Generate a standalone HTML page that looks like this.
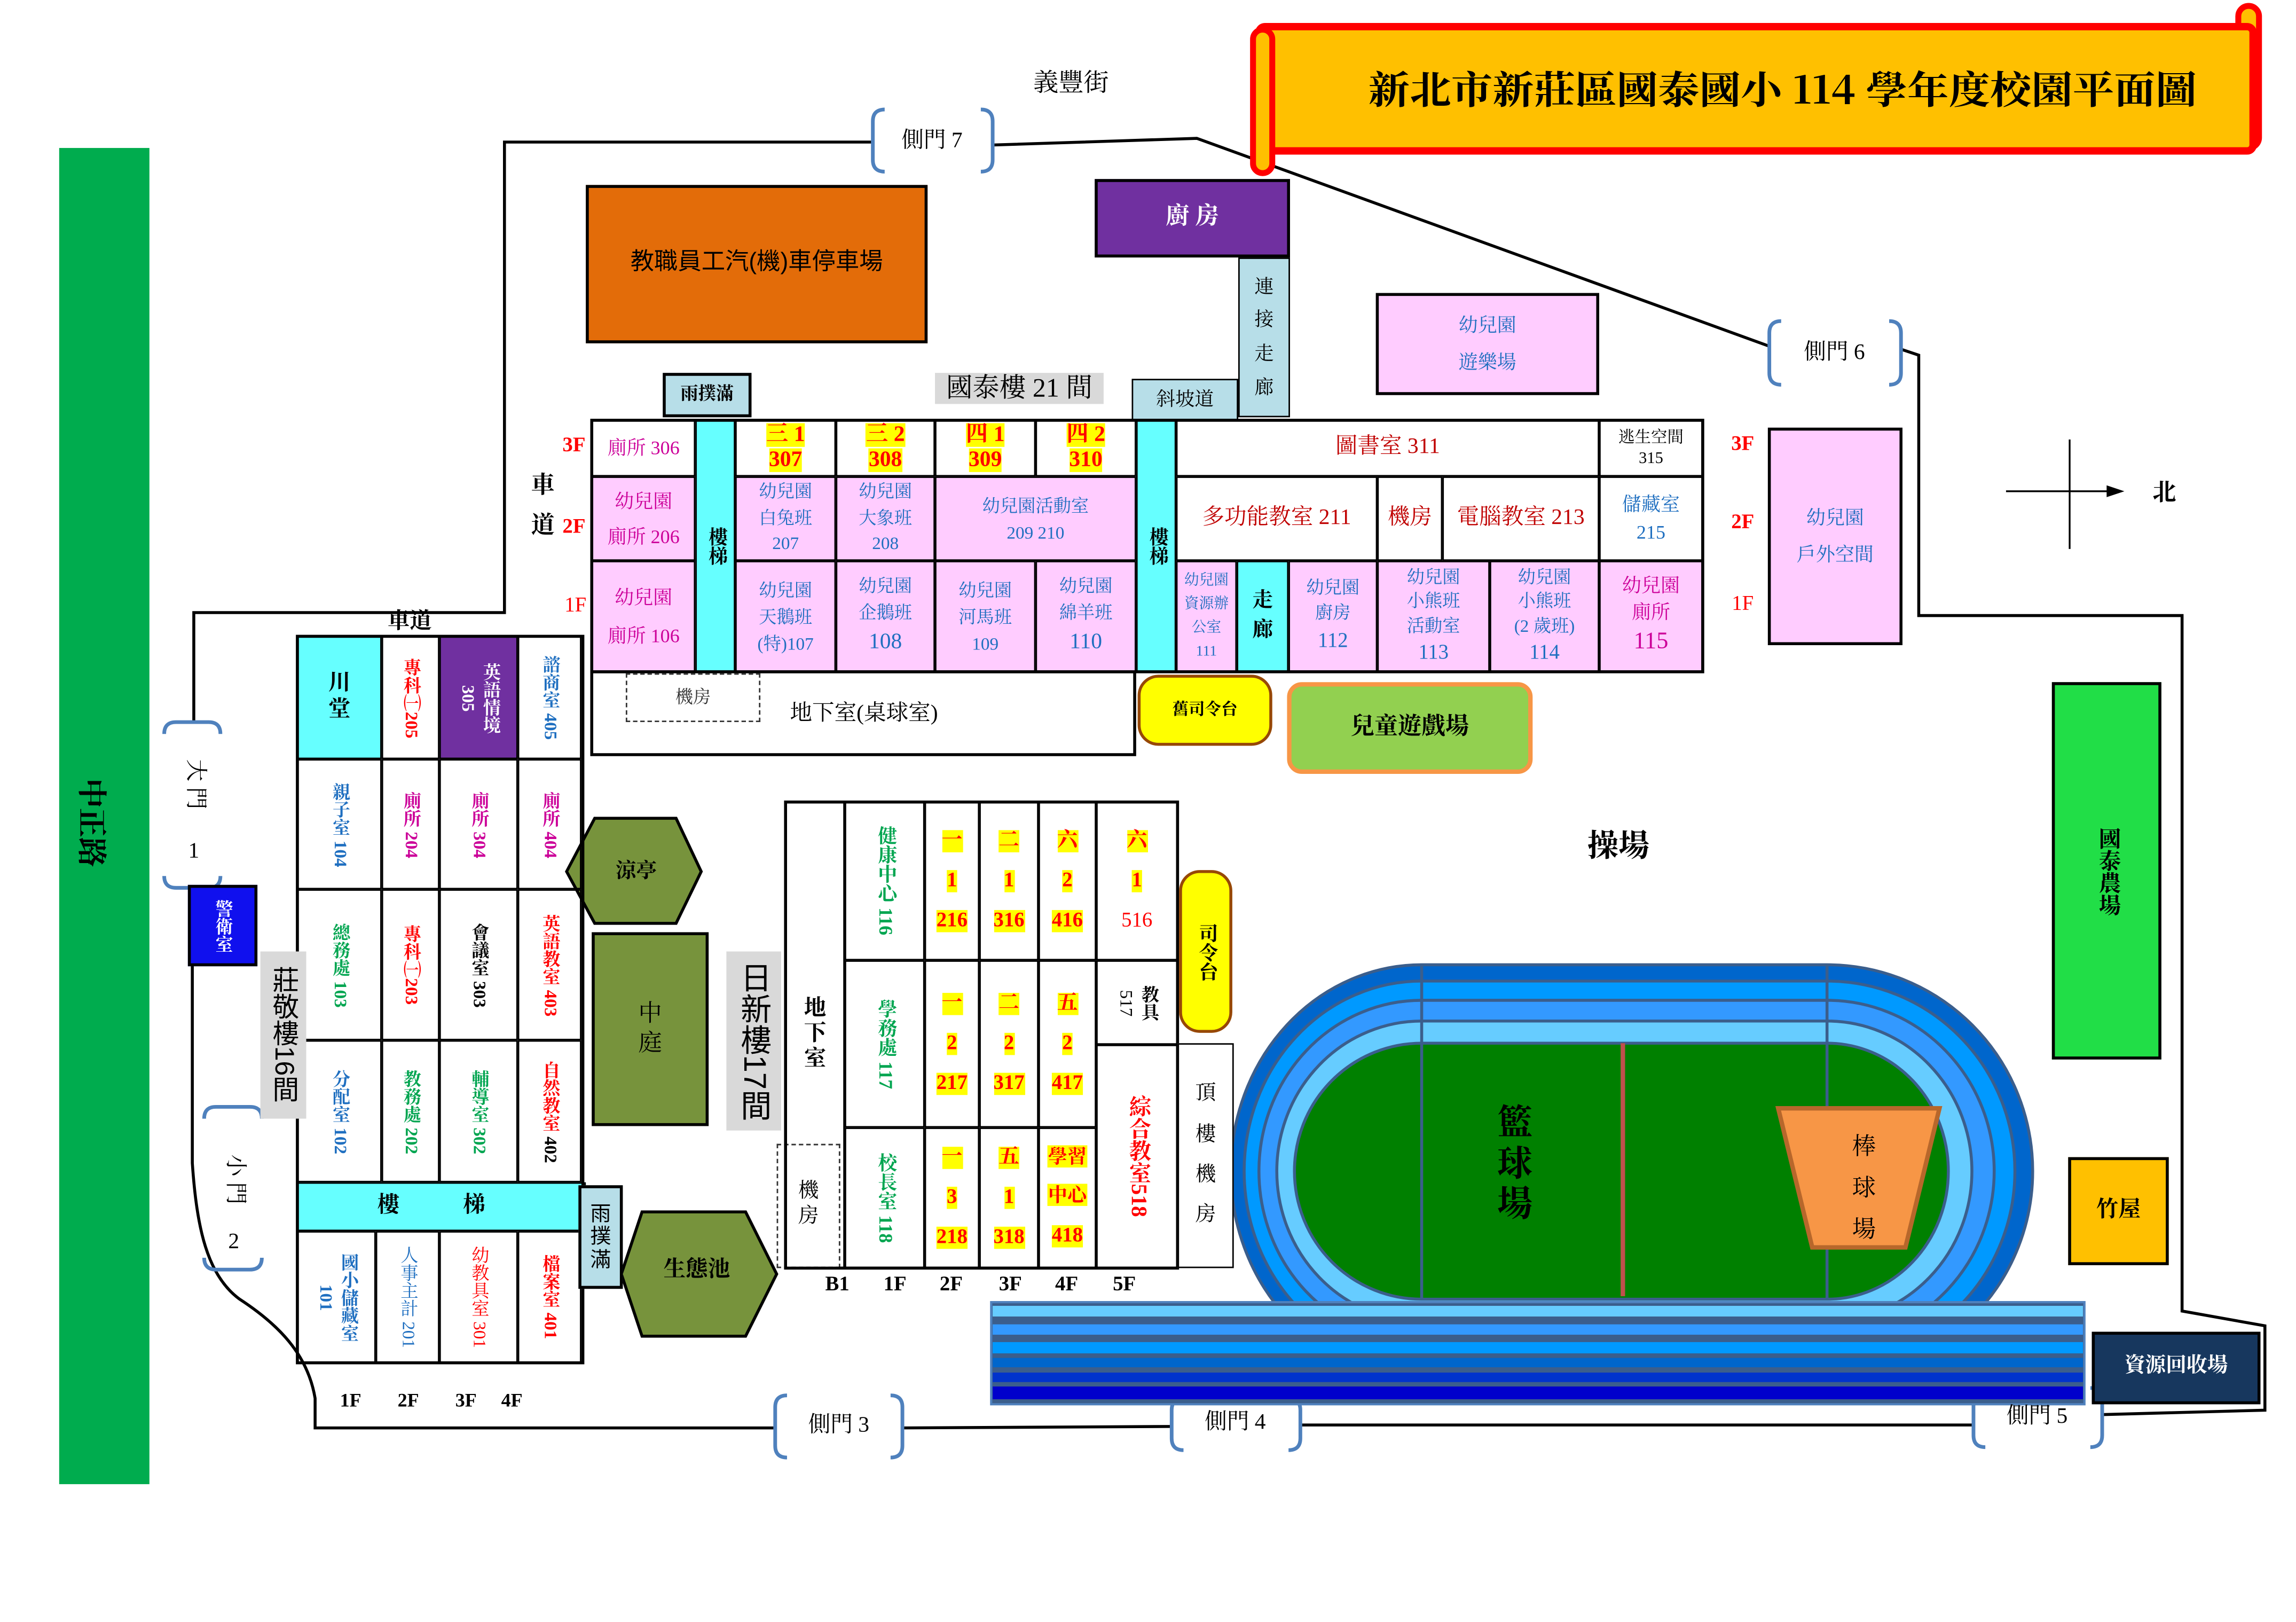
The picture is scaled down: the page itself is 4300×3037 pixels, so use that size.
<!DOCTYPE html>
<html><head><meta charset="utf-8">
<style>
html,body{margin:0;padding:0;background:#fff;width:4300px;height:3036px;overflow:hidden}
#m{position:absolute;left:0;top:0;width:1552px;height:1096px;transform:scale(2.7706);transform-origin:0 0;font-family:"Liberation Serif","Noto Serif CJK SC",serif;color:#000}
.a{position:absolute;box-sizing:border-box;display:flex;align-items:center;justify-content:center;text-align:center;line-height:1.3;font-size:12px}
.b{border:1px solid #000}
.B{border:2px solid #000}
.v{writing-mode:vertical-rl}
.p{background:#FFCCFF}
.cy{background:#66FFFF}
.mg{color:#CC0099}.bl{color:#1F6FC0}.rd{color:#FF0000}.dr{color:#C00000}.gr{color:#00A550}
.bd{font-weight:bold}
.y span{background:#FFFF00;color:#FF0000;font-weight:bold}
.t{position:absolute;transform:translate(-50%,-50%);white-space:nowrap;line-height:1}
.s{font-family:"Liberation Sans","Noto Sans CJK SC",sans-serif}
svg{position:absolute;left:0;top:0}
</style></head><body><div id="m">
<svg width="1552" height="1096" viewBox="0 0 1552 1096">
<rect x="40" y="100" width="61" height="903" fill="#00AC4E"/>
<g fill="none" stroke="#000" stroke-width="2">
<path d="M131,488 L131,414 L341,414 L341,96 L590,96"/>
<path d="M671,98 L809,93.5 L1196,234"/>
<path d="M1285,236 L1297,240 L1297,416 L1475,416 L1475,886 L1531,896 L1531,953 L1421,956"/>
<path d="M1334,963 L879,963"/>
<path d="M792,964 L610,965"/>
<path d="M524,965 L213,965 L213,945 C208,915 188,895 162,878 C140,862 133,830 130,786 L130,652"/>
</g>
<rect x="1513" y="4" width="14" height="96" rx="7" fill="#FFC000" stroke="#FF0000" stroke-width="4"/>
<rect x="851" y="18" width="672" height="84" rx="4" fill="#FFC000" stroke="#FF0000" stroke-width="5"/>
<rect x="847" y="20" width="13" height="97" rx="6.5" fill="#FFC000" stroke="#FF0000" stroke-width="4"/>
<text x="1205" y="70" font-size="26" font-weight="bold" text-anchor="middle" textLength="560" lengthAdjust="spacingAndGlyphs" font-family="Noto Serif CJK SC, serif">新北市新莊區國泰國小 114 學年度校園平面圖</text>
<g fill="none" stroke="#4F81BD" stroke-width="2.5">
<path d="M598,74 Q590,74 590,82 L590,108 Q590,116 598,116 M663,74 Q671,74 671,82 L671,108 Q671,116 663,116"/>
<path d="M1204,217 Q1196,217 1196,225 L1196,252 Q1196,260 1204,260 M1277,217 Q1285,217 1285,225 L1285,252 Q1285,260 1277,260"/>
<path d="M532,943 Q524,943 524,951 L524,977 Q524,985 532,985 M602,943 Q610,943 610,951 L610,977 Q610,985 602,985"/>
<path d="M800,945 Q792,945 792,953 L792,972 Q792,980 800,980 M871,945 Q879,945 879,953 L879,972 Q879,980 871,980"/>
<path d="M1342,938 Q1334,938 1334,946 L1334,970 Q1334,978 1342,978 M1413,938 Q1421,938 1421,946 L1421,970 Q1421,978 1413,978"/>
<path d="M111,496 Q111,488 119,488 L141,488 Q149,488 149,496 M111,592 Q111,600 119,600 L141,600 Q149,600 149,592"/>
<path d="M138,756 Q138,748 146,748 L169,748 Q177,748 177,756 M138,850 Q138,858 146,858 L169,858 Q177,858 177,850"/>
</g>
<polygon points="383,589 402,553 457,553 474,589 457,624 402,624" fill="#77933C" stroke="#000" stroke-width="2"/>
<polygon points="420,861 434,819 504,819 525,861 504,903 434,903" fill="#77933C" stroke="#000" stroke-width="2"/>
<g stroke="#3B5E8C" stroke-width="2">
<path d="M961,652 L1235,652 A139 139.5 0 0 1 1235,931 L961,931 A129 139.5 0 0 1 961,652Z" fill="#0066CC"/>
<path d="M961,663 L1235,663 A127 128.5 0 0 1 1235,920 L961,920 A120 128.5 0 0 1 961,663Z" fill="#0099FF"/>
<path d="M961,676 L1235,676 A113 115.5 0 0 1 1235,907 L961,907 A110 115.5 0 0 1 961,676Z" fill="#3399FF"/>
<path d="M961,690 L1235,690 A98 101.5 0 0 1 1235,893 L961,893 A98 101.5 0 0 1 961,690Z" fill="#66CCFF"/>
<path d="M961,705 L1235,705 A82 86.5 0 0 1 1235,878 L961,878 A86 86.5 0 0 1 961,705Z" fill="#008000"/>
<path d="M961,652 L961,878 M1235,652 L1235,878" fill="none"/>
</g>
<line x1="1097" y1="705" x2="1097" y2="876" stroke="#C0504D" stroke-width="3"/>
<polygon points="1202,749 1311,749 1288,843 1225,843" fill="#F79646" stroke="#B7672B" stroke-width="3"/>
<rect x="670" y="880" width="739" height="69" fill="#3B5E8C" stroke="#4F81BD" stroke-width="1.5"/>
<rect x="671" y="882.5" width="737" height="7.2" fill="#66CCFF"/>
<rect x="671" y="895" width="737" height="7" fill="#3399FF"/>
<rect x="671" y="907" width="737" height="7.6" fill="#0099FF"/>
<rect x="671" y="917.7" width="737" height="6.3" fill="#0066CC"/>
<rect x="671" y="927.6" width="737" height="6.4" fill="#0033CC"/>
<rect x="671" y="937" width="737" height="8.6" fill="#0000CC"/>
<line x1="1399" y1="297" x2="1399" y2="371" stroke="#000" stroke-width="1.2"/>
<line x1="1356" y1="332" x2="1426" y2="332" stroke="#000" stroke-width="1.2"/>
<polygon points="1436,332 1424,328 1424,336" fill="#000"/>
</svg>

<div class="t bd" style="left:61px;top:556px;font-size:20px;transform:translate(-50%,-50%) rotate(90deg)">中正路</div>
<div class="t" style="left:724px;top:56px;font-size:17px">義豐街</div>
<div class="t" style="left:630px;top:96px;font-size:15px">側門 7</div>
<div class="t" style="left:1240px;top:239px;font-size:15px">側門 6</div>
<div class="t" style="left:567px;top:964px;font-size:15px">側門 3</div>
<div class="t" style="left:835px;top:962px;font-size:15px">側門 4</div>
<div class="t" style="left:1377px;top:958px;font-size:15px">側門 5</div>
<div class="t" style="left:131px;top:530px;font-size:15px;transform:translate(-50%,-50%) rotate(90deg)">大 門</div>
<div class="t" style="left:131px;top:576px;font-size:15px">1</div>
<div class="t" style="left:158px;top:797px;font-size:15px;transform:translate(-50%,-50%) rotate(90deg)">小 門</div>
<div class="t" style="left:158px;top:840px;font-size:15px">2</div>
<div class="t bd" style="left:1463px;top:334px;font-size:16px">北</div>
<div class="t bd" style="left:1094px;top:572px;font-size:21px">操場</div>

<div class="a B s" style="left:396px;top:125px;width:231px;height:107px;background:#E36C09;font-size:16px">教職員工汽(機)車停車場</div>
<div class="a B" style="left:740px;top:121px;width:132px;height:53px;background:#7030A0;color:#fff;font-size:16px;font-weight:bold">廚 房</div>
<div class="a b" style="left:837px;top:174px;width:35px;height:108px;background:#B7DEE8;font-size:13px;line-height:1.75">連<br>接<br>走<br>廊</div>
<div class="a b" style="left:765px;top:256px;width:72px;height:28px;background:#B7DEE8;font-size:13px">斜坡道</div>
<div class="a" style="left:632px;top:252px;width:114px;height:21px;background:#D9D9D9;font-size:18px">國泰樓 21 間</div>
<div class="a B" style="left:448px;top:252px;width:60px;height:30px;background:#B7DEE8;font-size:12px;font-weight:bold">雨撲滿</div>
<div class="a B p bl" style="left:930px;top:198px;width:151px;height:69px;font-size:13px;line-height:1.9">幼兒園<br>遊樂場</div>
<div class="a B p bl" style="left:1195px;top:289px;width:91px;height:147px;font-size:13px;line-height:1.9">幼兒園<br>戶外空間</div>
<div class="a B v bd" style="left:1387px;top:461px;width:74px;height:255px;background:#21DE47;font-size:15px;text-orientation:upright">國泰農場</div>
<div class="a B bd" style="left:1398px;top:782px;width:68px;height:73px;background:#FFC000;font-size:15px">竹屋</div>
<div class="a B bd" style="left:1414px;top:900px;width:114px;height:49px;background:#17375E;color:#fff;font-size:14px">資源回收場</div>

<div class="t rd bd" style="left:388px;top:302px;font-size:14px">3F</div>
<div class="t rd bd" style="left:388px;top:357px;font-size:14px">2F</div>
<div class="t rd" style="left:389px;top:410px;font-size:14px">1F</div>
<div class="t bd" style="left:367px;top:329px;font-size:16px">車</div>
<div class="t bd" style="left:367px;top:356px;font-size:16px">道</div>
<div class="t bd" style="left:277px;top:421px;font-size:15px">車道</div>
<div class="t rd bd" style="left:1178px;top:301px;font-size:14px">3F</div>
<div class="t rd bd" style="left:1178px;top:354px;font-size:14px">2F</div>
<div class="t rd" style="left:1178px;top:409px;font-size:14px">1F</div>

<!-- main building -->
<div class="a b mg" style="left:400px;top:284px;width:70px;height:38px;font-size:13px">廁所 306</div>
<div class="a b cy v bd" style="left:470px;top:284px;width:27px;height:170px;font-size:13px">樓梯</div>
<div class="a b y" style="left:497px;top:284px;width:68px;height:38px;font-size:15px;line-height:1.15"><div><span>三 1</span><br><span>307</span></div></div>
<div class="a b y" style="left:565px;top:284px;width:67px;height:38px;font-size:15px;line-height:1.15"><div><span>三 2</span><br><span>308</span></div></div>
<div class="a b y" style="left:632px;top:284px;width:68px;height:38px;font-size:15px;line-height:1.15"><div><span>四 1</span><br><span>309</span></div></div>
<div class="a b y" style="left:700px;top:284px;width:68px;height:38px;font-size:15px;line-height:1.15"><div><span>四 2</span><br><span>310</span></div></div>
<div class="a b cy v bd" style="left:768px;top:284px;width:27px;height:170px;font-size:13px">樓梯</div>
<div class="a b dr" style="left:795px;top:284px;width:286px;height:38px;font-size:15px">圖書室 311</div>
<div class="a b" style="left:1081px;top:284px;width:70px;height:38px;font-size:11px">逃生空間<br>315</div>

<div class="a b p mg" style="left:400px;top:322px;width:70px;height:57px;font-size:13px;line-height:1.8">幼兒園<br>廁所 206</div>
<div class="a b p bl" style="left:497px;top:322px;width:68px;height:57px;line-height:1.45">幼兒園<br>白兔班<br>207</div>
<div class="a b p bl" style="left:565px;top:322px;width:67px;height:57px;line-height:1.45">幼兒園<br>大象班<br>208</div>
<div class="a b p bl" style="left:632px;top:322px;width:136px;height:57px;line-height:1.5">幼兒園活動室<br>209 210</div>
<div class="a b dr" style="left:795px;top:322px;width:136px;height:57px;font-size:15px">多功能教室 211</div>
<div class="a b dr" style="left:931px;top:322px;width:44px;height:57px;font-size:15px">機房</div>
<div class="a b dr" style="left:975px;top:322px;width:106px;height:57px;font-size:15px">電腦教室 213</div>
<div class="a b bl" style="left:1081px;top:322px;width:70px;height:57px;font-size:13px;line-height:1.4">儲藏室<br>215</div>

<div class="a b p mg" style="left:400px;top:379px;width:70px;height:75px;font-size:13px;line-height:2">幼兒園<br>廁所 106</div>
<div class="a b p bl" style="left:497px;top:379px;width:68px;height:75px;line-height:1.5">幼兒園<br>天鵝班<br>(特)107</div>
<div class="a b p bl" style="left:565px;top:379px;width:67px;height:75px;line-height:1.5"><div>幼兒園<br>企鵝班<br><span style="font-size:15px">108</span></div></div>
<div class="a b p bl" style="left:632px;top:379px;width:68px;height:75px;line-height:1.5">幼兒園<br>河馬班<br>109</div>
<div class="a b p bl" style="left:700px;top:379px;width:68px;height:75px;line-height:1.5"><div>幼兒園<br>綿羊班<br><span style="font-size:15px">110</span></div></div>
<div class="a b p bl" style="left:795px;top:379px;width:41px;height:75px;font-size:10px;line-height:1.6">幼兒園<br>資源辦<br>公室<br>111</div>
<div class="a b cy bd" style="left:836px;top:379px;width:35px;height:75px;font-size:14px;line-height:1.4">走<br>廊</div>
<div class="a b p bl" style="left:871px;top:379px;width:60px;height:75px;line-height:1.45"><div>幼兒園<br>廚房<br><span style="font-size:14px">112</span></div></div>
<div class="a b p bl" style="left:931px;top:379px;width:76px;height:75px;line-height:1.4"><div>幼兒園<br>小熊班<br>活動室<br><span style="font-size:14px">113</span></div></div>
<div class="a b p bl" style="left:1007px;top:379px;width:74px;height:75px;line-height:1.4"><div>幼兒園<br>小熊班<br>(2 歲班)<br><span style="font-size:14px">114</span></div></div>
<div class="a b p mg" style="left:1081px;top:379px;width:70px;height:75px;font-size:13px;line-height:1.4"><div>幼兒園<br>廁所<br><span style="font-size:16px">115</span></div></div>
<div class="a B" style="left:399px;top:283px;width:753px;height:172px"></div>

<div class="a B" style="left:399px;top:453px;width:369px;height:58px"></div>
<div class="a" style="left:423px;top:455px;width:91px;height:33px;border:1px dashed #333;font-size:12px;color:#333">機房</div>
<div class="t" style="left:584px;top:483px;font-size:15px">地下室(桌球室)</div>
<div class="a B bd" style="left:769px;top:456px;width:91px;height:48px;background:#FFFF00;border-color:#974806;border-radius:14px;font-size:11px">舊司令台</div>
<div class="a bd" style="left:870px;top:461px;width:166px;height:62px;background:#92D050;border:3px solid #F79646;border-radius:10px;font-size:16px">兒童遊戲場</div>

<!-- west building -->
<div class="a b cy bd" style="left:201px;top:430px;width:57px;height:83px;font-size:15px;line-height:1.15">川<br>堂</div>
<div class="a b v rd bd" style="left:258px;top:430px;width:39px;height:83px">專科㈠205</div>
<div class="a b v bd" style="left:297px;top:430px;width:53px;height:83px;background:#7030A0;color:#fff">英語情境<br>305</div>
<div class="a b v bl bd" style="left:350px;top:430px;width:43px;height:83px">諮商室 405</div>
<div class="a b v bl bd" style="left:201px;top:513px;width:57px;height:88px">親子室 104</div>
<div class="a b v mg bd" style="left:258px;top:513px;width:39px;height:88px">廁所 204</div>
<div class="a b v mg bd" style="left:297px;top:513px;width:53px;height:88px">廁所 304</div>
<div class="a b v mg bd" style="left:350px;top:513px;width:43px;height:88px">廁所 404</div>
<div class="a b v gr bd" style="left:201px;top:601px;width:57px;height:102px">總務處 103</div>
<div class="a b v rd bd" style="left:258px;top:601px;width:39px;height:102px">專科㈠203</div>
<div class="a b v bd" style="left:297px;top:601px;width:53px;height:102px">會議室 303</div>
<div class="a b v rd bd" style="left:350px;top:601px;width:43px;height:102px">英語教室 403</div>
<div class="a b v bl bd" style="left:201px;top:703px;width:57px;height:96px">分配室 102</div>
<div class="a b v gr bd" style="left:258px;top:703px;width:39px;height:96px">教務處 202</div>
<div class="a b v gr bd" style="left:297px;top:703px;width:53px;height:96px">輔導室 302</div>
<div class="a b v rd bd" style="left:350px;top:703px;width:43px;height:96px"><div>自然教室 <span style="color:#000">402</span></div></div>
<div class="a b cy bd" style="left:201px;top:799px;width:195px;height:33px;font-size:15px;letter-spacing:14px">樓　梯</div>
<div class="a b v bl" style="left:201px;top:832px;width:53px;height:89px;font-weight:bold">國小儲藏室<br>101</div>
<div class="a b v bl" style="left:254px;top:832px;width:43px;height:89px">人事主計 201</div>
<div class="a b v rd" style="left:297px;top:832px;width:53px;height:89px">幼教具室 301</div>
<div class="a b v rd bd" style="left:350px;top:832px;width:43px;height:89px">檔案室 401</div>
<div class="a B" style="left:200px;top:429px;width:195px;height:493px"></div>
<div class="t bd" style="left:237px;top:946px;font-size:13px">1F</div>
<div class="t bd" style="left:276px;top:946px;font-size:13px">2F</div>
<div class="t bd" style="left:315px;top:946px;font-size:13px">3F</div>
<div class="t bd" style="left:346px;top:946px;font-size:13px">4F</div>

<div class="a B v bd" style="left:127px;top:598px;width:47px;height:55px;background:#1010EE;color:#fff;font-size:12px;line-height:1.1">警衛室</div>
<div class="a v s" style="left:176px;top:643px;width:31px;height:113px;background:#D9D9D9;font-size:18px">莊敬樓16間</div>
<div class="t bd" style="left:430px;top:590px;font-size:14px">涼亭</div>
<div class="a B" style="left:400px;top:630px;width:79px;height:131px;background:#77933C;font-size:16px;line-height:1.2">中<br>庭</div>
<div class="a B s" style="left:391px;top:801px;width:30px;height:70px;background:#B7DEE8;font-size:14px;line-height:1.1">雨<br>撲<br>滿</div>
<div class="t bd" style="left:471px;top:859px;font-size:15px">生態池</div>
<div class="a v s" style="left:491px;top:643px;width:37px;height:121px;background:#D9D9D9;font-size:21px">日新樓17間</div>

<!-- middle building -->
<div class="a b bd" style="left:531px;top:542px;width:40px;height:315px;font-size:15px;line-height:1.15">地<br>下<br>室</div>
<div class="a" style="left:525px;top:773px;width:43px;height:84px;border:1px dashed #333;font-size:14px;line-height:1.2;background:#fff">機<br>房</div>
<div class="a b v gr bd" style="left:571px;top:542px;width:54px;height:107px;font-size:13px">健康中心 116</div>
<div class="a b v gr bd" style="left:571px;top:649px;width:54px;height:113px;font-size:13px">學務處 117</div>
<div class="a b v gr bd" style="left:571px;top:762px;width:54px;height:95px;font-size:13px">校長室 118</div>
<div class="a b y" style="left:625px;top:542px;width:37px;height:107px;font-size:14px;line-height:1.95"><div><span>一</span><br><span>1</span><br><span>216</span></div></div>
<div class="a b y" style="left:625px;top:649px;width:37px;height:113px;font-size:14px;line-height:1.95"><div><span>一</span><br><span>2</span><br><span>217</span></div></div>
<div class="a b y" style="left:625px;top:762px;width:37px;height:95px;font-size:14px;line-height:1.95"><div><span>一</span><br><span>3</span><br><span>218</span></div></div>
<div class="a b y" style="left:662px;top:542px;width:40px;height:107px;font-size:14px;line-height:1.95"><div><span>二</span><br><span>1</span><br><span>316</span></div></div>
<div class="a b y" style="left:662px;top:649px;width:40px;height:113px;font-size:14px;line-height:1.95"><div><span>二</span><br><span>2</span><br><span>317</span></div></div>
<div class="a b y" style="left:662px;top:762px;width:40px;height:95px;font-size:14px;line-height:1.95"><div><span>五</span><br><span>1</span><br><span>318</span></div></div>
<div class="a b y" style="left:702px;top:542px;width:39px;height:107px;font-size:14px;line-height:1.95"><div><span>六</span><br><span>2</span><br><span>416</span></div></div>
<div class="a b y" style="left:702px;top:649px;width:39px;height:113px;font-size:14px;line-height:1.95"><div><span>五</span><br><span>2</span><br><span>417</span></div></div>
<div class="a b y" style="left:702px;top:762px;width:39px;height:95px;font-size:13px;line-height:2.05"><div><span>學習</span><br><span>中心</span><br><span style="font-size:14px">418</span></div></div>
<div class="a b y" style="left:741px;top:542px;width:55px;height:107px;font-size:14px;line-height:1.95"><div><span>六</span><br><span>1</span><br><span style="background:none;font-weight:normal">516</span></div></div>
<div class="a b v bd" style="left:741px;top:649px;width:55px;height:57px;font-size:12px"><div>教具<br><span style="font-weight:normal">517</span></div></div>
<div class="a b v rd bd" style="left:741px;top:706px;width:55px;height:151px;font-size:15px">綜合教室518</div>
<div class="a B" style="left:530px;top:541px;width:267px;height:317px"></div>
<div class="a B" style="left:796px;top:705px;width:38px;height:152px;border-width:1.5px;font-size:14px;line-height:1.95;background:#fff">頂<br>樓<br>機<br>房</div>
<div class="a B v bd" style="left:797px;top:588px;width:36px;height:110px;background:#FFFF00;border-color:#974806;border-radius:14px;font-size:13px;text-orientation:upright">司令台</div>
<div class="t bd" style="left:566px;top:869px;font-size:14px">B1</div>
<div class="t bd" style="left:605px;top:869px;font-size:14px">1F</div>
<div class="t bd" style="left:643px;top:869px;font-size:14px">2F</div>
<div class="t bd" style="left:683px;top:869px;font-size:14px">3F</div>
<div class="t bd" style="left:721px;top:869px;font-size:14px">4F</div>
<div class="t bd" style="left:760px;top:869px;font-size:14px">5F</div>

<div class="t bd" style="left:1024px;top:788px;font-size:24px;line-height:1.15;text-align:center">籃<br>球<br>場</div>
<div class="t" style="left:1260px;top:804px;font-size:16px;line-height:1.75;text-align:center">棒<br>球<br>場</div>
</div></body></html>
